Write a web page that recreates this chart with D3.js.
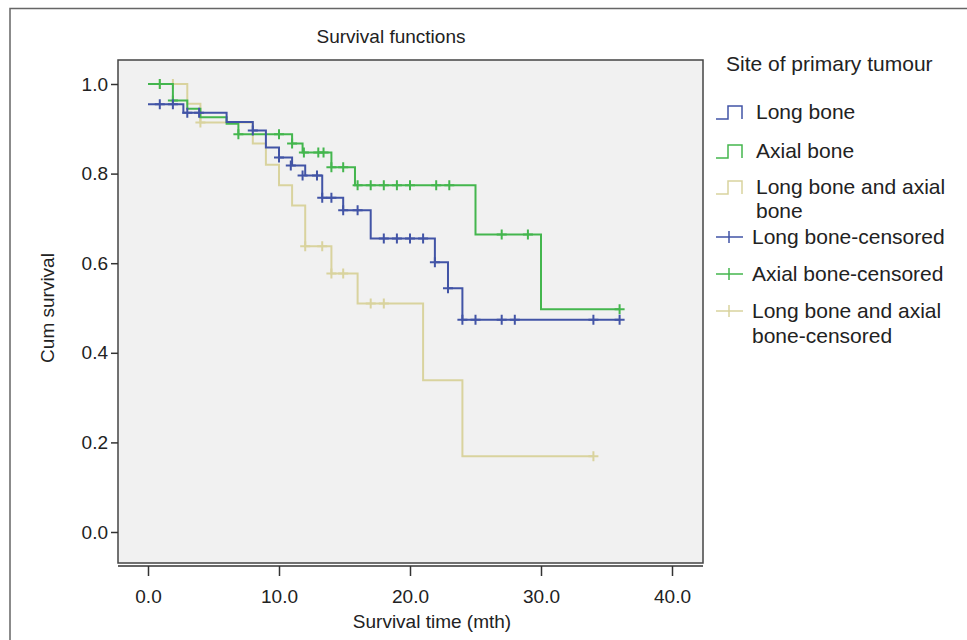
<!DOCTYPE html>
<html>
<head>
<meta charset="utf-8">
<script src="https://cdn.jsdelivr.net/npm/d3@7"></script>
<style>
  body { margin: 0; background: #fff; }
  text { font-family: "Liberation Sans", Arial, sans-serif; fill: #222; }
</style>
</head>
<body>
<div id="chart"></div>
<script>
// setup
var w = 967;
var h = 640;

// survival steps: [time (mth), cum survival]
var longSteps = [[0,0.955],[2.7,0.936],[6,0.915],[8,0.896],[9,0.858],[10,0.836],[11,0.818],[12,0.796],
                 [13.3,0.746],[14.9,0.718],[17,0.655],[21.9,0.602],[22.9,0.544],[24,0.474],[36,0.474]];
var longCens = [[0.9,0.955],[1.9,0.955],[3,0.936],[3.9,0.936],[8,0.896],[10,0.836],[10.9,0.818],[11.8,0.796],
                [12.9,0.796],[13.3,0.746],[14,0.746],[14.9,0.718],[16,0.718],[18,0.655],[19,0.655],[20,0.655],
                [21,0.655],[21.9,0.602],[22.9,0.544],[24,0.474],[25,0.474],[27,0.474],[28,0.474],[34,0.474],[36,0.474]];

var axialSteps = [[0,1.0],[1.9,0.963],[3,0.945],[4,0.926],[6,0.911],[6.9,0.888],[11,0.867],[11.8,0.847],
                  [14,0.814],[15.8,0.774],[25,0.664],[30,0.497],[36,0.497]];
var axialCens = [[0.9,1.0],[1.9,0.963],[6.9,0.888],[10,0.888],[11,0.867],[11.9,0.847],[13,0.847],[13.4,0.847],
                 [14,0.814],[14.9,0.814],[16,0.774],[17,0.774],[18,0.774],[19,0.774],[20,0.774],[22,0.774],
                 [23,0.774],[27,0.664],[29,0.664],[36,0.497]];

var bothSteps = [[0,1.0],[3,0.956],[4,0.914],[8,0.867],[9,0.82],[10,0.774],[11,0.729],[12,0.638],
                 [14,0.577],[16,0.51],[21,0.339],[24,0.169],[34,0.169]];
var bothCens = [[0.9,1.0],[1.9,1.0],[4,0.914],[12,0.638],[13.3,0.638],[14,0.577],[14.9,0.577],
                [17,0.51],[18,0.51],[34,0.169]];

var groups = ["Long bone", "Axial bone", "Long bone and axial bone"];
var colors = ["#4254a6", "#44b64e", "#d9d39e"];
var xTicks = [0, 10, 20, 30, 40];
var yTicks = [0, 0.2, 0.4, 0.6, 0.8, 1.0];

var series = [
  {name: groups[0], steps: longSteps, cens: longCens, color: colors[0]},
  {name: groups[1], steps: axialSteps, cens: axialCens, color: colors[1]},
  {name: groups[2], steps: bothSteps, cens: bothCens, color: colors[2]}
];

var svg = d3.select("#chart").append("svg")
  .attr("width", w).attr("height", h);

// outer frame (top + left only visible)
svg.append("path")
  .attr("d", "M10,640 V8.5 H967")
  .attr("fill", "none").attr("stroke", "#666").attr("stroke-width", 1.5);

var frame = {l: 118, r: 703, t: 60, b: 563};
var x = d3.scaleLinear().domain([0, 40]).range([148, 672]);
var y = d3.scaleLinear().domain([0, 1]).range([532, 84]);

svg.append("rect")
  .attr("x", frame.l).attr("y", frame.t)
  .attr("width", frame.r - frame.l).attr("height", frame.b - frame.t)
  .attr("fill", "#f1f1f1").attr("stroke", "#444").attr("stroke-width", 1.5);

// axes
var yAxis = svg.append("g").attr("transform", "translate(" + frame.l + ",0)")
  .call(d3.axisLeft(y).tickValues(yTicks).tickFormat(d3.format(".1f")).tickSize(7).tickSizeOuter(0));
var xAxis = svg.append("g").attr("transform", "translate(0," + (frame.b + 3) + ")")
  .call(d3.axisBottom(x).tickValues(xTicks).tickFormat(d3.format(".1f")).tickSize(10).tickSizeOuter(0));
[yAxis, xAxis].forEach(function(g){
  g.select(".domain").remove();
  g.selectAll("line").attr("stroke", "#333").attr("stroke-width", 1.5);
  g.selectAll("text").style("font-size", "19px").attr("fill", "#222");
});
yAxis.selectAll("text").attr("x", -10);
xAxis.selectAll("text").attr("y", 20).attr("dy", "0.9em");
svg.append("line")
  .attr("x1", frame.l).attr("x2", frame.r)
  .attr("y1", frame.b + 3).attr("y2", frame.b + 3)
  .attr("stroke", "#333").attr("stroke-width", 1.5);

// labels
svg.append("text").attr("x", 391).attr("y", 43).attr("text-anchor", "middle")
  .style("font-size", "19px").text("Survival functions");
svg.append("text").attr("x", 432).attr("y", 628).attr("text-anchor", "middle")
  .style("font-size", "19px").text("Survival time (mth)");
svg.append("text").attr("transform", "translate(54,308) rotate(-90)").attr("text-anchor", "middle")
  .style("font-size", "19px").text("Cum survival");

// curves
var line = d3.line().x(function(d){ return x(d[0]); }).y(function(d){ return y(d[1]); })
  .curve(d3.curveStepAfter);
var plot = svg.append("g");
series.slice().reverse().forEach(function(s){
  plot.append("path").datum(s.steps)
    .attr("d", line)
    .attr("fill", "none").attr("stroke", s.color).attr("stroke-width", 2);
  plot.selectAll(null).data(s.cens).enter().append("path")
    .attr("d", function(d){
      var px = x(d[0]), py = y(d[1]);
      return "M" + (px - 5) + "," + py + "H" + (px + 5) + "M" + px + "," + (py - 5) + "V" + (py + 5);
    })
    .attr("stroke", s.color).attr("stroke-width", 2);
});

// legend
var lg = svg.append("g");
lg.append("text").attr("x", 726).attr("y", 71).style("font-size", "21px").text("Site of primary tumour");
var stepRows = [[112], [151], [187, 211]];
var censRows = [[237], [274], [311, 336]];
var censNames = ["Long bone-censored", "Axial bone-censored", "Long bone and axial", "bone-censored"];
series.forEach(function(s, i){
  var yy = stepRows[i][0];
  lg.append("path")
    .attr("d", "M716," + (yy + 7) + "H728V" + (yy - 6) + "H742V" + (yy + 7))
    .attr("fill", "none").attr("stroke", s.color).attr("stroke-width", 1.5);
  var lines = i < 2 ? [s.name] : ["Long bone and axial", "bone"];
  lines.forEach(function(t, j){
    lg.append("text").attr("x", 756).attr("y", stepRows[i][j] + 7)
      .style("font-size", "21px").text(t);
  });
  var cy = censRows[i][0];
  lg.append("path")
    .attr("d", "M716," + cy + "H743M729," + (cy - 6) + "V" + (cy + 6))
    .attr("fill", "none").attr("stroke", s.color).attr("stroke-width", 1.5);
  var cl = i < 2 ? [censNames[i]] : [censNames[2], censNames[3]];
  cl.forEach(function(t, j){
    lg.append("text").attr("x", 752).attr("y", censRows[i][j] + 7)
      .style("font-size", "21px").text(t);
  });
});
</script>
</body>
</html>
